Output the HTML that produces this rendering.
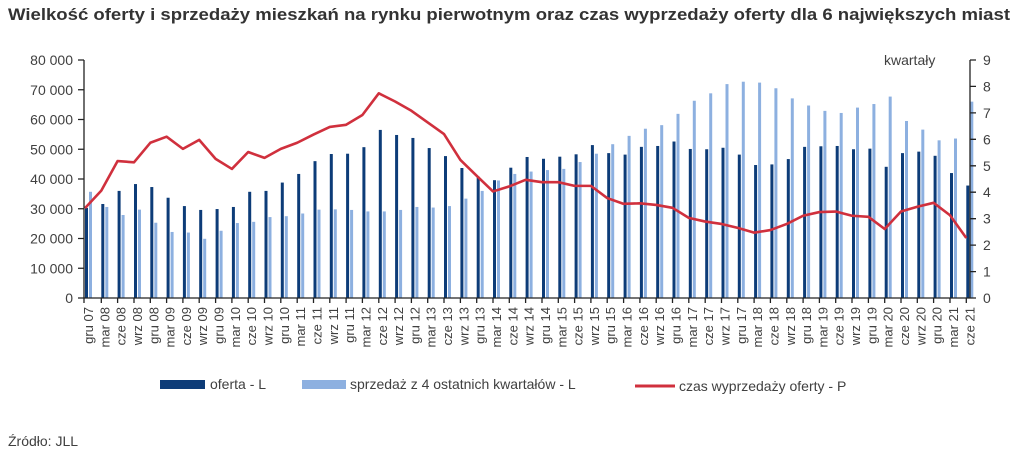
<!DOCTYPE html>
<html><head><meta charset="utf-8"><style>
html,body{margin:0;padding:0;background:#fff;}
svg{display:block;font-family:"Liberation Sans",sans-serif;}
.ax{font-size:14px;fill:#404040;}
.xl{font-size:13px;fill:#404040;}
</style></head><body>
<svg width="1024" height="455" viewBox="0 0 1024 455">
<text x="8" y="20" font-size="16.5" font-weight="bold" fill="#333" textLength="1002" lengthAdjust="spacingAndGlyphs">Wielkość oferty i sprzedaży mieszkań na rynku pierwotnym oraz czas wyprzedaży oferty dla 6 największych miast</text>

<!-- bars -->
<g transform="translate(0,298) scale(1,-2.975)">
<g fill="#8db0e0">
<rect x="89" y="0" width="3" height="35.7"/><rect x="105.3" y="0" width="3" height="30.6"/><rect x="121.6" y="0" width="3" height="27.9"/><rect x="138" y="0" width="3" height="29.7"/><rect x="154.3" y="0" width="3" height="25.3"/><rect x="170.6" y="0" width="3" height="22.2"/><rect x="186.9" y="0" width="3" height="22"/><rect x="203.2" y="0" width="3" height="19.9"/><rect x="219.6" y="0" width="3" height="22.6"/><rect x="235.9" y="0" width="3" height="25.2"/><rect x="252.2" y="0" width="3" height="25.6"/><rect x="268.5" y="0" width="3" height="27.2"/><rect x="284.8" y="0" width="3" height="27.5"/><rect x="301.2" y="0" width="3" height="28.4"/><rect x="317.5" y="0" width="3" height="29.7"/><rect x="333.8" y="0" width="3" height="29.8"/><rect x="350.1" y="0" width="3" height="29.6"/><rect x="366.4" y="0" width="3" height="29.1"/><rect x="382.8" y="0" width="3" height="29.1"/><rect x="399.1" y="0" width="3" height="29.6"/><rect x="415.4" y="0" width="3" height="30.6"/><rect x="431.7" y="0" width="3" height="30.4"/><rect x="448" y="0" width="3" height="30.9"/><rect x="464.4" y="0" width="3" height="33.4"/><rect x="480.7" y="0" width="3" height="36"/><rect x="497" y="0" width="3" height="39.5"/><rect x="513.3" y="0" width="3" height="41.7"/><rect x="529.6" y="0" width="3" height="42.5"/><rect x="546" y="0" width="3" height="43"/><rect x="562.3" y="0" width="3" height="43.4"/><rect x="578.6" y="0" width="3" height="45.7"/><rect x="594.9" y="0" width="3" height="48.5"/><rect x="611.2" y="0" width="3" height="51.7"/><rect x="627.6" y="0" width="3" height="54.5"/><rect x="643.9" y="0" width="3" height="56.9"/><rect x="660.2" y="0" width="3" height="58.1"/><rect x="676.5" y="0" width="3" height="61.9"/><rect x="692.8" y="0" width="3" height="66.3"/><rect x="709.2" y="0" width="3" height="68.8"/><rect x="725.5" y="0" width="3" height="71.9"/><rect x="741.8" y="0" width="3" height="72.7"/><rect x="758.1" y="0" width="3" height="72.4"/><rect x="774.4" y="0" width="3" height="70.5"/><rect x="790.8" y="0" width="3" height="67.1"/><rect x="807.1" y="0" width="3" height="64.7"/><rect x="823.4" y="0" width="3" height="62.9"/><rect x="839.7" y="0" width="3" height="62.2"/><rect x="856" y="0" width="3" height="64"/><rect x="872.4" y="0" width="3" height="65.2"/><rect x="888.7" y="0" width="3" height="67.7"/><rect x="905" y="0" width="3" height="59.5"/><rect x="921.3" y="0" width="3" height="56.6"/><rect x="937.6" y="0" width="3" height="53"/><rect x="954" y="0" width="3" height="53.6"/><rect x="970.3" y="0" width="3" height="66"/>
</g>
<g fill="#0d3c78">
<rect x="85" y="0" width="3" height="30.3"/><rect x="101.3" y="0" width="3" height="31.6"/><rect x="117.6" y="0" width="3" height="36"/><rect x="134" y="0" width="3" height="38.3"/><rect x="150.3" y="0" width="3" height="37.3"/><rect x="166.6" y="0" width="3" height="33.7"/><rect x="182.9" y="0" width="3" height="30.9"/><rect x="199.2" y="0" width="3" height="29.6"/><rect x="215.6" y="0" width="3" height="29.9"/><rect x="231.9" y="0" width="3" height="30.6"/><rect x="248.2" y="0" width="3" height="35.7"/><rect x="264.5" y="0" width="3" height="36"/><rect x="280.8" y="0" width="3" height="38.8"/><rect x="297.2" y="0" width="3" height="41.7"/><rect x="313.5" y="0" width="3" height="46"/><rect x="329.8" y="0" width="3" height="48.4"/><rect x="346.1" y="0" width="3" height="48.5"/><rect x="362.4" y="0" width="3" height="50.7"/><rect x="378.8" y="0" width="3" height="56.5"/><rect x="395.1" y="0" width="3" height="54.8"/><rect x="411.4" y="0" width="3" height="53.8"/><rect x="427.7" y="0" width="3" height="50.4"/><rect x="444" y="0" width="3" height="47.7"/><rect x="460.4" y="0" width="3" height="43.7"/><rect x="476.7" y="0" width="3" height="40.8"/><rect x="493" y="0" width="3" height="39.6"/><rect x="509.3" y="0" width="3" height="43.8"/><rect x="525.6" y="0" width="3" height="47.4"/><rect x="542" y="0" width="3" height="46.8"/><rect x="558.3" y="0" width="3" height="47.5"/><rect x="574.6" y="0" width="3" height="48.3"/><rect x="590.9" y="0" width="3" height="51.4"/><rect x="607.2" y="0" width="3" height="48.7"/><rect x="623.6" y="0" width="3" height="48.2"/><rect x="639.9" y="0" width="3" height="50.8"/><rect x="656.2" y="0" width="3" height="51.1"/><rect x="672.5" y="0" width="3" height="52.6"/><rect x="688.8" y="0" width="3" height="50.1"/><rect x="705.2" y="0" width="3" height="50"/><rect x="721.5" y="0" width="3" height="50.5"/><rect x="737.8" y="0" width="3" height="48.2"/><rect x="754.1" y="0" width="3" height="44.7"/><rect x="770.4" y="0" width="3" height="44.9"/><rect x="786.8" y="0" width="3" height="46.7"/><rect x="803.1" y="0" width="3" height="50.8"/><rect x="819.4" y="0" width="3" height="51"/><rect x="835.7" y="0" width="3" height="51.1"/><rect x="852" y="0" width="3" height="50"/><rect x="868.4" y="0" width="3" height="50.2"/><rect x="884.7" y="0" width="3" height="44.1"/><rect x="901" y="0" width="3" height="48.7"/><rect x="917.3" y="0" width="3" height="49.2"/><rect x="933.6" y="0" width="3" height="47.8"/><rect x="950" y="0" width="3" height="42"/><rect x="966.3" y="0" width="3" height="37.8"/>
</g>
</g>

<!-- line -->
<g transform="translate(0,298) scale(1,-26.444)">
<polyline fill="none" stroke="#d0303d" stroke-width="2.6" stroke-linejoin="round" vector-effect="non-scaling-stroke" points="85,3.4 101.3,4.06 117.6,5.18 134,5.13 150.3,5.87 166.6,6.1 182.9,5.64 199.2,5.98 215.6,5.26 231.9,4.88 248.2,5.52 264.5,5.3 280.8,5.64 297.2,5.87 313.5,6.18 329.8,6.47 346.1,6.55 362.4,6.92 378.8,7.74 395.1,7.43 411.4,7.08 427.7,6.64 444,6.2 460.4,5.22 476.7,4.62 493,4.03 509.3,4.22 525.6,4.47 542,4.38 558.3,4.38 574.6,4.24 590.9,4.24 607.2,3.78 623.6,3.56 639.9,3.58 656.2,3.52 672.5,3.41 688.8,3.03 705.2,2.89 721.5,2.8 737.8,2.65 754.1,2.47 770.4,2.57 786.8,2.8 803.1,3.11 819.4,3.25 835.7,3.27 852,3.11 868.4,3.07 884.7,2.61 901,3.27 917.3,3.45 933.6,3.6 950,3.13 966.3,2.27"/>
</g>

<!-- axes -->
<g stroke="#222" stroke-width="1.3" fill="none">
<line x1="84" y1="60" x2="84" y2="298"/>
<line x1="84" y1="298" x2="970" y2="298"/>
<line x1="970" y1="60" x2="970" y2="298"/>
<path d="M78 60H84M78 89.75H84M78 119.5H84M78 149.25H84M78 179H84M78 208.75H84M78 238.5H84M78 268.25H84M78 298H84"/>
<path d="M970 60H976M970 86.4H976M970 112.9H976M970 139.3H976M970 165.8H976M970 192.2H976M970 218.7H976M970 245.1H976M970 271.6H976M970 298H976"/>
<path d="M84 298V303M101.3 298V303M117.6 298V303M134 298V303M150.3 298V303M166.6 298V303M182.9 298V303M199.2 298V303M215.6 298V303M231.9 298V303M248.2 298V303M264.5 298V303M280.8 298V303M297.2 298V303M313.5 298V303M329.8 298V303M346.1 298V303M362.4 298V303M378.8 298V303M395.1 298V303M411.4 298V303M427.7 298V303M444 298V303M460.4 298V303M476.7 298V303M493 298V303M509.3 298V303M525.6 298V303M542 298V303M558.3 298V303M574.6 298V303M590.9 298V303M607.2 298V303M623.6 298V303M639.9 298V303M656.2 298V303M672.5 298V303M688.8 298V303M705.2 298V303M721.5 298V303M737.8 298V303M754.1 298V303M770.4 298V303M786.8 298V303M803.1 298V303M819.4 298V303M835.7 298V303M852 298V303M868.4 298V303M884.7 298V303M901 298V303M917.3 298V303M933.6 298V303M950 298V303M966.3 298V303"/>
</g>

<g class="ax" text-anchor="end">
<text x="73" y="65">80 000</text><text x="73" y="94.75">70 000</text><text x="73" y="124.5">60 000</text><text x="73" y="154.25">50 000</text><text x="73" y="184">40 000</text><text x="73" y="213.75">30 000</text><text x="73" y="243.5">20 000</text><text x="73" y="273.25">10 000</text><text x="73" y="303">0</text>
</g>
<g class="ax">
<text x="884" y="65">kwartały</text>
<text x="983" y="65">9</text><text x="983" y="91.4">8</text><text x="983" y="117.9">7</text><text x="983" y="144.3">6</text><text x="983" y="170.8">5</text><text x="983" y="197.2">4</text><text x="983" y="223.7">3</text><text x="983" y="250.1">2</text><text x="983" y="276.6">1</text><text x="983" y="303">0</text>
</g>

<g class="xl" text-anchor="end">
<text transform="translate(93,307) rotate(-90)">gru 07</text>
<text transform="translate(109.3,307) rotate(-90)">mar 08</text>
<text transform="translate(125.6,307) rotate(-90)">cze 08</text>
<text transform="translate(142,307) rotate(-90)">wrz 08</text>
<text transform="translate(158.3,307) rotate(-90)">gru 08</text>
<text transform="translate(174.6,307) rotate(-90)">mar 09</text>
<text transform="translate(190.9,307) rotate(-90)">cze 09</text>
<text transform="translate(207.2,307) rotate(-90)">wrz 09</text>
<text transform="translate(223.6,307) rotate(-90)">gru 09</text>
<text transform="translate(239.9,307) rotate(-90)">mar 10</text>
<text transform="translate(256.2,307) rotate(-90)">cze 10</text>
<text transform="translate(272.5,307) rotate(-90)">wrz 10</text>
<text transform="translate(288.8,307) rotate(-90)">gru 10</text>
<text transform="translate(305.2,307) rotate(-90)">mar 11</text>
<text transform="translate(321.5,307) rotate(-90)">cze 11</text>
<text transform="translate(337.8,307) rotate(-90)">wrz 11</text>
<text transform="translate(354.1,307) rotate(-90)">gru 11</text>
<text transform="translate(370.4,307) rotate(-90)">mar 12</text>
<text transform="translate(386.8,307) rotate(-90)">cze 12</text>
<text transform="translate(403.1,307) rotate(-90)">wrz 12</text>
<text transform="translate(419.4,307) rotate(-90)">gru 12</text>
<text transform="translate(435.7,307) rotate(-90)">mar 13</text>
<text transform="translate(452,307) rotate(-90)">cze 13</text>
<text transform="translate(468.4,307) rotate(-90)">wrz 13</text>
<text transform="translate(484.7,307) rotate(-90)">gru 13</text>
<text transform="translate(501,307) rotate(-90)">mar 14</text>
<text transform="translate(517.3,307) rotate(-90)">cze 14</text>
<text transform="translate(533.6,307) rotate(-90)">wrz 14</text>
<text transform="translate(550,307) rotate(-90)">gru 14</text>
<text transform="translate(566.3,307) rotate(-90)">mar 15</text>
<text transform="translate(582.6,307) rotate(-90)">cze 15</text>
<text transform="translate(598.9,307) rotate(-90)">wrz 15</text>
<text transform="translate(615.2,307) rotate(-90)">gru 15</text>
<text transform="translate(631.6,307) rotate(-90)">mar 16</text>
<text transform="translate(647.9,307) rotate(-90)">cze 16</text>
<text transform="translate(664.2,307) rotate(-90)">wrz 16</text>
<text transform="translate(680.5,307) rotate(-90)">gru 16</text>
<text transform="translate(696.8,307) rotate(-90)">mar 17</text>
<text transform="translate(713.2,307) rotate(-90)">cze 17</text>
<text transform="translate(729.5,307) rotate(-90)">wrz 17</text>
<text transform="translate(745.8,307) rotate(-90)">gru 17</text>
<text transform="translate(762.1,307) rotate(-90)">mar 18</text>
<text transform="translate(778.4,307) rotate(-90)">cze 18</text>
<text transform="translate(794.8,307) rotate(-90)">wrz 18</text>
<text transform="translate(811.1,307) rotate(-90)">gru 18</text>
<text transform="translate(827.4,307) rotate(-90)">mar 19</text>
<text transform="translate(843.7,307) rotate(-90)">cze 19</text>
<text transform="translate(860,307) rotate(-90)">wrz 19</text>
<text transform="translate(876.4,307) rotate(-90)">gru 19</text>
<text transform="translate(892.7,307) rotate(-90)">mar 20</text>
<text transform="translate(909,307) rotate(-90)">cze 20</text>
<text transform="translate(925.3,307) rotate(-90)">wrz 20</text>
<text transform="translate(941.6,307) rotate(-90)">gru 20</text>
<text transform="translate(958,307) rotate(-90)">mar 21</text>
<text transform="translate(974.3,307) rotate(-90)">cze 21</text>
</g>

<!-- legend -->
<rect x="160" y="380" width="45" height="9" fill="#0d3c78"/>
<text x="210" y="389" class="ax">oferta - L</text>
<rect x="302" y="380" width="44" height="9" fill="#8db0e0"/>
<text x="350" y="389" class="ax">sprzedaż z 4 ostatnich kwartałów - L</text>
<line x1="635" y1="386" x2="675" y2="386" stroke="#d0303d" stroke-width="3"/>
<text x="679" y="391" class="ax">czas wyprzedaży oferty - P</text>

<text x="8" y="446" class="ax">Źródło: JLL</text>
</svg>
</body></html>
